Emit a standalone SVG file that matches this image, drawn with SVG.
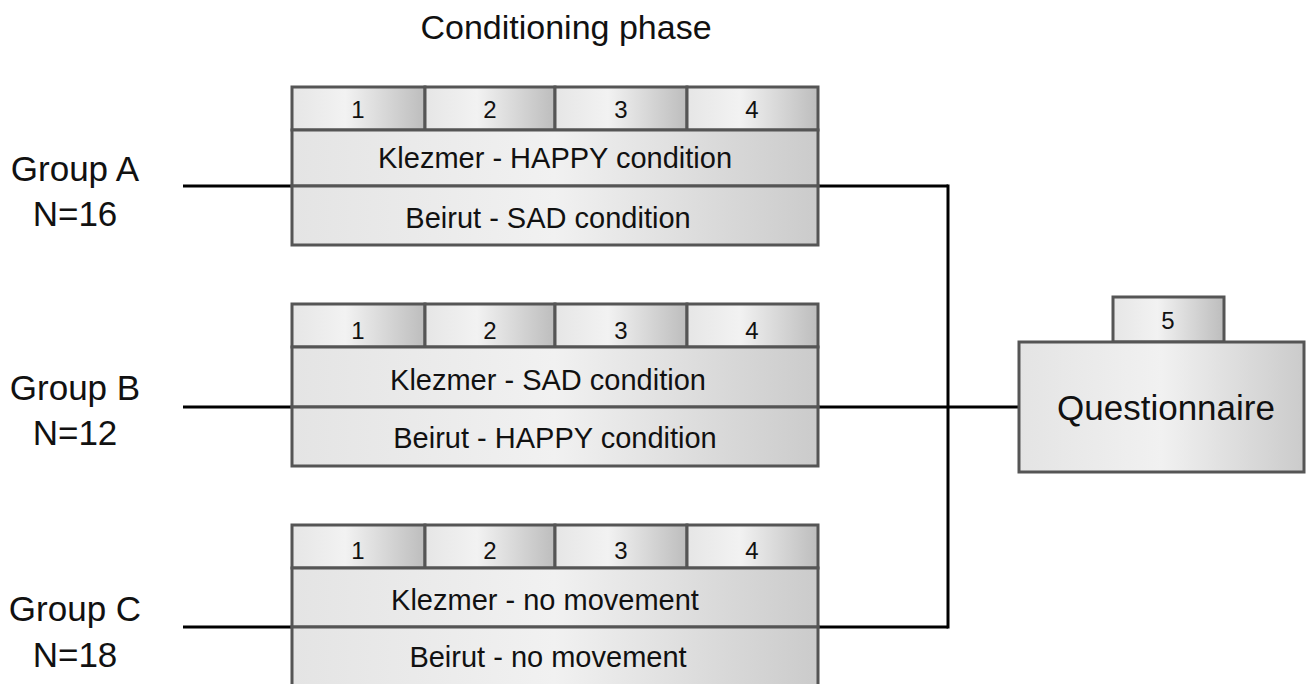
<svg xmlns="http://www.w3.org/2000/svg" width="1312" height="684" viewBox="0 0 1312 684">
<defs>
<linearGradient id="g" x1="0" y1="0" x2="1" y2="0">
<stop offset="0" stop-color="#e6e6e6"/>
<stop offset="0.4" stop-color="#f2f2f2"/>
<stop offset="1" stop-color="#bdbdbd"/>
</linearGradient>
<linearGradient id="gw" x1="0" y1="0" x2="1" y2="0">
<stop offset="0" stop-color="#e4e4e4"/>
<stop offset="0.5" stop-color="#f1f1f1"/>
<stop offset="1" stop-color="#cbcbcb"/>
</linearGradient>
</defs>
<style>
.box{fill:url(#g);stroke:#555;stroke-width:3}
.row{fill:url(#gw);stroke:#555;stroke-width:3}
.t{font-family:"Liberation Sans",Arial,sans-serif;fill:#111;text-anchor:middle}
.num{font-size:24px}
.lab{font-size:29px}
.big{font-size:35px}
.title{font-size:34px}
.con{stroke:#000;stroke-width:3;fill:none}
</style>
<rect width="1312" height="684" fill="#fff"/>
<text class="t title" x="566" y="39">Conditioning phase</text>
<g id="connectors">
<line class="con" x1="183" y1="186" x2="292" y2="186"/>
<line class="con" x1="818" y1="186" x2="948" y2="186"/>
<line class="con" x1="183" y1="407" x2="292" y2="407"/>
<line class="con" x1="818" y1="407" x2="1019" y2="407"/>
<line class="con" x1="183" y1="627" x2="292" y2="627"/>
<line class="con" x1="818" y1="627" x2="948" y2="627"/>
<line class="con" x1="948" y1="184.5" x2="948" y2="628.5"/>
</g>
<g id="groupA">
<text class="t big" x="75" y="181">Group A</text>
<text class="t big" x="75" y="226">N=16</text>
<rect class="box" x="292" y="87" width="133" height="43"/>
<rect class="box" x="425" y="87" width="130" height="43"/>
<rect class="box" x="555" y="87" width="132" height="43"/>
<rect class="box" x="687" y="87" width="131" height="43"/>
<text class="t num" x="358" y="118">1</text>
<text class="t num" x="490" y="118">2</text>
<text class="t num" x="621" y="118">3</text>
<text class="t num" x="752" y="118">4</text>
<rect class="row" x="292" y="130" width="526" height="56"/>
<rect class="row" x="292" y="186" width="526" height="59"/>
<text class="t lab" x="555" y="168">Klezmer - HAPPY condition</text>
<text class="t lab" x="548" y="228">Beirut - SAD condition</text>
</g>
<g id="groupB">
<text class="t big" x="75" y="400">Group B</text>
<text class="t big" x="75" y="445">N=12</text>
<rect class="box" x="292" y="304" width="133" height="43"/>
<rect class="box" x="425" y="304" width="130" height="43"/>
<rect class="box" x="555" y="304" width="132" height="43"/>
<rect class="box" x="687" y="304" width="131" height="43"/>
<text class="t num" x="358" y="339">1</text>
<text class="t num" x="490" y="339">2</text>
<text class="t num" x="621" y="339">3</text>
<text class="t num" x="752" y="339">4</text>
<rect class="row" x="292" y="347" width="526" height="60"/>
<rect class="row" x="292" y="407" width="526" height="59"/>
<text class="t lab" x="548" y="390">Klezmer - SAD condition</text>
<text class="t lab" x="555" y="448">Beirut - HAPPY condition</text>
</g>
<g id="groupC">
<text class="t big" x="75" y="621">Group C</text>
<text class="t big" x="75" y="667">N=18</text>
<rect class="box" x="292" y="525" width="133" height="43"/>
<rect class="box" x="425" y="525" width="130" height="43"/>
<rect class="box" x="555" y="525" width="132" height="43"/>
<rect class="box" x="687" y="525" width="131" height="43"/>
<text class="t num" x="358" y="559">1</text>
<text class="t num" x="490" y="559">2</text>
<text class="t num" x="621" y="559">3</text>
<text class="t num" x="752" y="559">4</text>
<rect class="row" x="292" y="568" width="526" height="59"/>
<rect class="row" x="292" y="627" width="526" height="60"/>
<text class="t lab" x="545" y="610">Klezmer - no movement</text>
<text class="t lab" x="548" y="667">Beirut - no movement</text>
</g>
<g id="questionnaire">
<rect class="box" x="1113" y="297" width="111" height="45"/>
<text class="t num" x="1168" y="329">5</text>
<rect class="row" x="1019" y="342" width="285" height="130"/>
<text class="t big" x="1166" y="420">Questionnaire</text>
</g>
</svg>
